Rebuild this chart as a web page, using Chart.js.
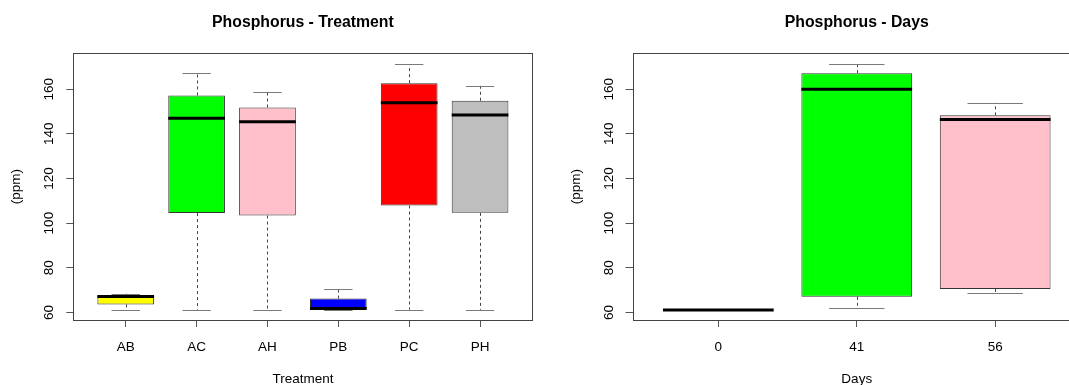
<!DOCTYPE html>
<html>
<head>
<meta charset="utf-8">
<script src="https://cdn.jsdelivr.net/npm/chart.js@4.4.0/dist/chart.umd.min.js"></script>
<style>
  html, body { margin: 0; padding: 0; background: #fff; width: 1069px; height: 385px; overflow: hidden; }
  #treatChart { position: absolute; left: 0; top: 0; }
  #daysChart { position: absolute; left: 540px; top: 0; }
</style>
</head>
<body>
<canvas id="treatChart" width="560" height="395"></canvas>
<canvas id="daysChart" width="600" height="395"></canvas>
<script>
// Phosphorus (ppm) by treatment
const treatments = ['AB', 'AC', 'AH', 'PB', 'PC', 'PH'];
const treatMin = [61.2, 61.2, 61.2, 61.2, 61.2, 61.2];
const treatQ1  = [63.6, 104.5, 103.4, 61.4, 107.9, 104.6];
const treatMed = [67.1, 147.0, 145.4, 61.7, 153.9, 148.4];
const treatQ3  = [67.7, 157.2, 151.8, 66.2, 162.7, 154.8];
const treatMax = [68.4, 167.3, 158.7, 70.5, 171.2, 161.6];
const treatColors = ['#FFFF00', '#00FF00', '#FFC0CB', '#0000FF', '#FF0000', '#BEBEBE'];

// Phosphorus (ppm) by sampling day
const days = ['0', '41', '56'];
const dayMin = [61.1, 61.8, 68.5];
const dayQ1  = [61.1, 67.0, 70.5];
const dayMed = [61.1, 160.0, 146.4];
const dayQ3  = [61.1, 167.2, 148.3];
const dayMax = [61.1, 171.1, 153.9];
const dayColors = ['#FFFFFF', '#00FF00', '#FFC0CB'];

const yTicks = [60, 80, 100, 120, 140, 160];

Chart.defaults.font.family = "'Liberation Sans', Arial, sans-serif";
Chart.defaults.color = '#000';

// whiskers, staples, medians and the plot frame (R boxplot look)
const boxWhiskers = {
  id: 'boxWhiskers',
  afterDatasetsDraw(chart, args, opts) {
    const {ctx, chartArea, scales: {y}} = chart;
    const bars = chart.getDatasetMeta(0).data;
    const crisp = v => Math.round(v) + 0.5;
    ctx.save();
    bars.forEach((bar, i) => {
      const px = crisp(bar.x);
      const w = bar.width;
      const yMin = y.getPixelForValue(opts.lo[i]);
      const yQ1 = y.getPixelForValue(opts.q1[i]);
      const yQ3 = y.getPixelForValue(opts.q3[i]);
      const yMax = y.getPixelForValue(opts.hi[i]);
      const yMed = y.getPixelForValue(opts.med[i]);

      // dashed whiskers
      ctx.strokeStyle = '#444';
      ctx.lineWidth = 1;
      ctx.setLineDash([3, 3]);
      ctx.beginPath();
      if (yMax < yQ3 - 1) { ctx.moveTo(px, yQ3); ctx.lineTo(px, yMax); }
      if (yMin > yQ1 + 1) { ctx.moveTo(px, yQ1); ctx.lineTo(px, yMin); }
      ctx.stroke();

      // staples
      ctx.setLineDash([]);
      ctx.strokeStyle = '#7a7a7a';
      ctx.beginPath();
      ctx.moveTo(bar.x - w / 4, crisp(yMax)); ctx.lineTo(bar.x + w / 4, crisp(yMax));
      ctx.moveTo(bar.x - w / 4, crisp(yMin)); ctx.lineTo(bar.x + w / 4, crisp(yMin));
      ctx.stroke();

      // median
      ctx.strokeStyle = '#000';
      ctx.lineWidth = 3;
      ctx.beginPath();
      ctx.moveTo(bar.x - w / 2, yMed); ctx.lineTo(bar.x + w / 2, yMed);
      ctx.stroke();
    });

    // box around the plot region
    ctx.strokeStyle = '#444';
    ctx.lineWidth = 1;
    ctx.strokeRect(crisp(chartArea.left), crisp(chartArea.top),
      Math.round(chartArea.right - chartArea.left), Math.round(chartArea.bottom - chartArea.top));
    ctx.restore();
  }
};

function makeBoxChart(canvasId, cfg) {
  const ctx = document.getElementById(canvasId).getContext('2d');
  const n = cfg.labels.length;
  const ext = 0.5 + 0.04 * n;   // R pads the x range by 4%
  return new Chart(ctx, {
    type: 'bar',
    data: {
      datasets: [{
        data: cfg.labels.map((l, i) => ({x: i + 1, y: [cfg.q1[i], cfg.q3[i]]})),
        backgroundColor: cfg.colors,
        borderColor: '#333',
        borderWidth: 1,
        borderSkipped: false,
        categoryPercentage: 1,
        barPercentage: 0.8
      }]
    },
    options: {
      responsive: false,
      animation: false,
      layout: {padding: {left: 0, right: cfg.padRight, top: 0, bottom: 0}},
      plugins: {
        legend: {display: false},
        tooltip: {enabled: false},
        title: {
          display: true,
          text: cfg.title,
          fullSize: false,
          color: '#000',
          font: {size: 15.8, weight: 'bold'},
          padding: {top: 12.7, bottom: 21.6}
        },
        boxWhiskers: {lo: cfg.lo, q1: cfg.q1, med: cfg.med, q3: cfg.q3, hi: cfg.hi}
      },
      scales: {
        x: {
          type: 'linear',
          min: 1 - ext,
          max: n + ext - 1 + 1,
          offset: false,
          grid: {drawOnChartArea: false, offset: false, tickLength: 7, color: '#555'},
          border: {display: false},
          ticks: {
            stepSize: 1,
            includeBounds: false,
            maxRotation: 0,
            padding: 12,
            font: {size: 13.5},
            callback: v => cfg.labels[v - 1]
          },
          title: {display: true, text: cfg.xTitle, font: {size: 13.5}, padding: {top: 0, bottom: 7.5}},
          afterFit(s) { s.height = 75; }
        },
        y: {
          min: 56.6,
          max: 176.1,
          grid: {drawOnChartArea: false, tickLength: 7, color: '#555'},
          border: {display: false},
          afterBuildTicks(s) { s.ticks = yTicks.map(v => ({value: v})); },
          ticks: {
            minRotation: 90,
            maxRotation: 90,
            crossAlign: 'center',
            padding: cfg.yTickPad,
            font: {size: 13.5}
          },
          title: {display: true, text: '(ppm)', font: {size: 13.5}, padding: {top: cfg.yTitlePad, bottom: 0}},
          afterFit(s) { s.width = cfg.yWidth; }
        }
      }
    },
    plugins: [boxWhiskers]
  });
}

makeBoxChart('treatChart', {
  title: 'Phosphorus - Treatment', xTitle: 'Treatment',
  labels: treatments, colors: treatColors,
  lo: treatMin, q1: treatQ1, med: treatMed, q3: treatQ3, hi: treatMax,
  padRight: 27.5, yWidth: 73.3, yTickPad: 5.3, yTitlePad: 7.9
});

makeBoxChart('daysChart', {
  title: 'Phosphorus - Days', xTitle: 'Days',
  labels: days, colors: dayColors,
  lo: dayMin, q1: dayQ1, med: dayMed, q3: dayQ3, hi: dayMax,
  padRight: 59, yWidth: 92.5, yTickPad: 4.5, yTitlePad: 28.3
});
</script>
</body>
</html>
